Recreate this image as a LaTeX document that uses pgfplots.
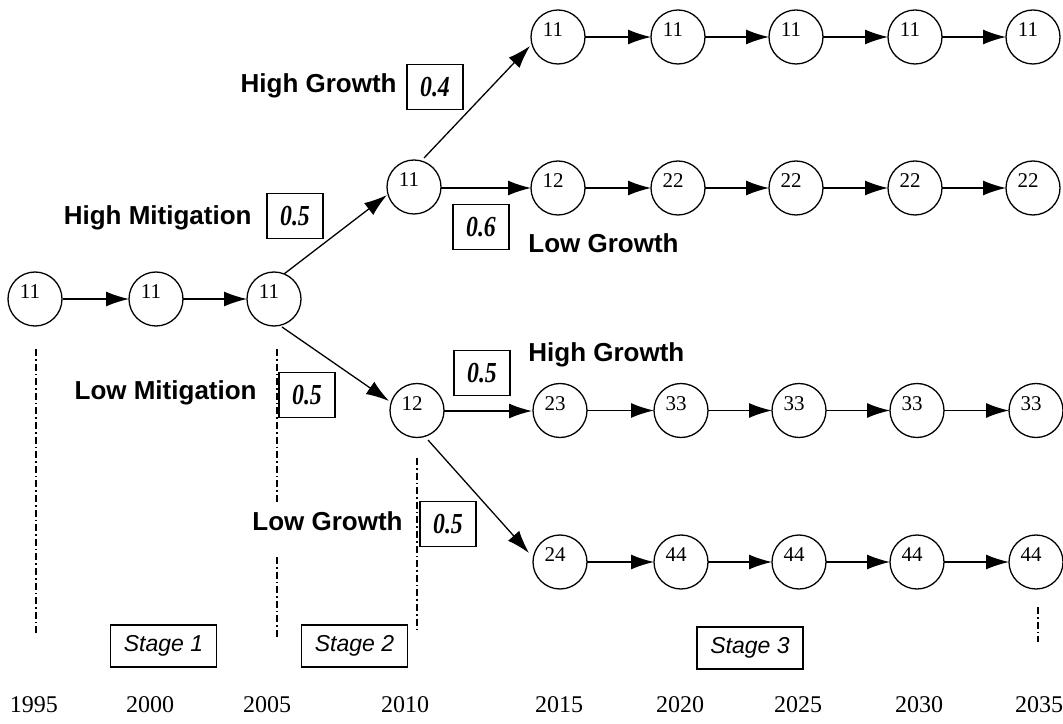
\documentclass[border=0pt]{standalone}
\usepackage{fontspec}
\setmainfont{Liberation Serif}
\newfontfamily\lsans{Liberation Sans}
\usepackage{pgfplots}
\pgfplotsset{compat=1.18}
\usetikzlibrary{arrows.meta}
\newcommand\lab[1]{{\lsans\bfseries\fontsize{13}{15}\selectfont #1}}
\newcommand\prob[1]{\scalebox{0.82}[1]{\bfseries\itshape\fontsize{14.5}{16}\selectfont #1}}
\newcommand\stg[1]{{\lsans\itshape\fontsize{11.5}{14}\selectfont #1}}
\newcommand\yr[1]{{\fontsize{12}{14}\selectfont #1}}

\pgfplotstableread{
x y label
35 424 11
156 424 11
274 424 11
414 536 11
417 312.5 12
558 686 11
678 686 11
796 686 11
915 686 11
1033 686 11
558 535 12
678 535 22
796 535 22
915 535 22
1033 535 22
560 312.5 23
681 312.5 33
799 312.5 33
917 312.5 33
1036 312.5 33
560 161 24
681 161 44
799 161 44
917 161 44
1036 161 44
}\nodes

\pgfplotstableread{
x y u v
63 424 66 0
183 424 64 0
284 449 103 79
282 396 107 -74
424 565 106 112
441 535 90 0
443 312 89 0
428 283 101 -113
585 686 66 0
705 686 64 0
823 686 65 0
942 686 64 0
585 535 66 0
705 535 64 0
823 535 65 0
942 535 64 0
587 312.5 67 0
708 312.5 64 0
826 312.5 64 0
944 312.5 65 0
587 161 67 0
708 161 64 0
826 161 64 0
944 161 65 0
}\arrows

\begin{document}
\begin{tikzpicture}
\begin{axis}[
  width=531.5pt, height=361.5pt, scale only axis,
  xmin=0, xmax=1063, ymin=0, ymax=723,
  hide axis, clip=false,
]
\path (axis cs:0,0) rectangle (axis cs:1063,723);

% dash-dot stage separators
\pgfplotsset{sep/.style={black, line width=1.2pt, dash pattern=on 3.5pt off 1.5pt on 0.8pt off 1.5pt}}
\addplot[sep] coordinates {(36,374) (36,88)};
\addplot[sep] coordinates {(277,374) (277,218)};
\addplot[sep] coordinates {(277,166) (277,86)};
\addplot[sep] coordinates {(417,265) (417,90)};
\addplot[sep] coordinates {(1038,116) (1038,81)};

% nodes
\addplot[only marks, mark=*, mark size=13.5pt,
  mark options={draw=black, fill=white, line width=0.65pt},
  point meta=explicit symbolic, nodes near coords,
  nodes near coords style={anchor=center, xshift=-2.5pt, yshift=3.5pt,
    font=\fontsize{10.5}{12}\selectfont, text=black, inner sep=0pt}]
  table[x=x, y=y, meta=label] {\nodes};

% arrows
\addplot[black, line width=0.65pt, -{Latex[length=11.5pt, width=7.5pt]},
  quiver={u=\thisrow{u}, v=\thisrow{v}}]
  table[x=x, y=y] {\arrows};

% branch labels
\node[anchor=base east, inner sep=0] at (axis cs:397,630) {\lab{High Growth}};
\node[anchor=base east, inner sep=0] at (axis cs:252,498) {\lab{High Mitigation}};
\node[anchor=base west, inner sep=0] at (axis cs:528,470) {\lab{Low Growth}};
\node[anchor=base east, inner sep=0] at (axis cs:257,323) {\lab{Low Mitigation}};
\node[anchor=base west, inner sep=0] at (axis cs:528,361) {\lab{High Growth}};
\node[anchor=base east, inner sep=0] at (axis cs:403,193) {\lab{Low Growth}};

% probability boxes
\tikzset{pb/.style={draw=black, line width=0.65pt, fill=white, minimum width=28pt, minimum height=22.5pt, inner sep=0pt}}
\node[pb] at (axis cs:435,636) {\prob{0.4}};
\node[pb] at (axis cs:295,507) {\prob{0.5}};
\node[pb] at (axis cs:481,496) {\prob{0.6}};
\node[pb] at (axis cs:307,328) {\prob{0.5}};
\node[pb] at (axis cs:482,350) {\prob{0.5}};
\node[pb] at (axis cs:448,199) {\prob{0.5}};

% stage boxes
\tikzset{sb/.style={draw=black, line width=0.65pt, fill=white, minimum width=53pt, minimum height=21pt, inner sep=0pt}}
\node[sb] at (axis cs:163.5,77) {\stg{Stage 1}};
\node[sb] at (axis cs:354.5,77) {\stg{Stage 2}};
\node[sb] at (axis cs:750,75) {\stg{Stage 3}};

% years
\node[anchor=base, inner sep=0] at (axis cs:34,11) {\yr{1995}};
\node[anchor=base, inner sep=0] at (axis cs:150,11) {\yr{2000}};
\node[anchor=base, inner sep=0] at (axis cs:267,11) {\yr{2005}};
\node[anchor=base, inner sep=0] at (axis cs:405,11) {\yr{2010}};
\node[anchor=base, inner sep=0] at (axis cs:559,11) {\yr{2015}};
\node[anchor=base, inner sep=0] at (axis cs:680,11) {\yr{2020}};
\node[anchor=base, inner sep=0] at (axis cs:798,11) {\yr{2025}};
\node[anchor=base, inner sep=0] at (axis cs:919,11) {\yr{2030}};
\node[anchor=base, inner sep=0] at (axis cs:1039,11) {\yr{2035}};
\end{axis}
\end{tikzpicture}
\end{document}
